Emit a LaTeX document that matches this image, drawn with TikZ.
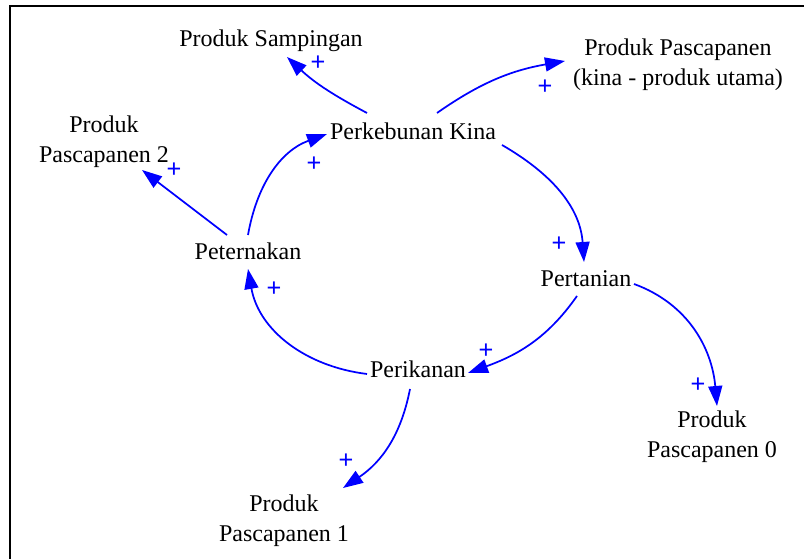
\documentclass[tikz,border=0pt]{standalone}
\usepackage{fontspec}
\setmainfont{Liberation Serif}
\newfontfamily\signfont{Liberation Sans}
\usetikzlibrary{arrows.meta}
\definecolor{linkblue}{RGB}{0,0,255}
\begin{document}
\begin{tikzpicture}[x=0.75pt,y=0.75pt,
  var/.style={font=\fontsize{18}{22.5}\selectfont, inner sep=0pt, anchor=base, align=center},
  link/.style={draw=linkblue, line width=1.3pt, -{Triangle[length=15pt,width=10.5pt]}},
  pol/.style={text=linkblue, font=\signfont\fontsize{19}{19}\selectfont, inner sep=0pt}]
\useasboundingbox (0,0) rectangle (804,559);
% frame
\draw[line width=1.5pt] (9.5,0) -- (9.5,552.5) -- (804,552.5);

% variables (base anchor = baseline of the last line)
\node[var] (pk) at (413,419) {Perkebunan Kina};
\node[var] (ps) at (271,512) {Produk Sampingan};
\node[var] (pp) at (678,473) {Produk Pascapanen\\(kina - produk utama)};
\node[var] (p2) at (104,396) {Produk\\Pascapanen 2};
\node[var] (pt) at (248,299) {Peternakan};
\node[var] (pr) at (586,272) {Pertanian};
\node[var] (pi) at (418,181) {Perikanan};
\node[var] (p1) at (284,17) {Produk\\Pascapanen 1};
\node[var] (p0) at (712,101) {Produk\\Pascapanen 0};

% causal links
\draw[link] ([shift={(-46,27)}]pk.base) to[out=152,in=-43] ([shift={(16,-10)}]ps.base);
\draw[link] ([shift={(24,27)}]pk.base) to[out=35,in=190] ([shift={(-113,25)}]pp.base);
\draw[link] ([shift={(89,-5)}]pk.base) to[out=-30,in=94] ([shift={(-2,25)}]pr.base);
\draw[link] ([shift={(-9,-9)}]pr.base) to[out=235,in=20] ([shift={(50,5)}]pi.base);
\draw[link] ([shift={(48,3)}]pr.base) to[out=-20,in=95] ([shift={(5,52)}]p0.base);
\draw[link] ([shift={(-51,4)}]pi.base) to[out=173,in=-80] ([shift={(0,-9)}]pt.base);
\draw[link] ([shift={(-8,-11)}]pi.base) to[out=259,in=34] ([shift={(59,54)}]p1.base);
\draw[link] ([shift={(-21,25)}]pt.base) -- ([shift={(38,-7)}]p2.base);
\draw[link] ([shift={(0,25)}]pt.base) to[out=80,in=200] ([shift={(-86,6)}]pk.base);

% link polarities
\node[pol] (s1) at (318,496) {+};
\node[pol] (s2) at (545,472) {+};
\node[pol] (s3) at (559,315) {+};
\node[pol] (s4) at (486,208) {+};
\node[pol] (s5) at (698,174) {+};
\node[pol] (s6) at (274,270) {+};
\node[pol] (s7) at (346,98) {+};
\node[pol] (s8) at (174,389) {+};
\node[pol] (s9) at (314,395) {+};
\end{tikzpicture}
\end{document}
